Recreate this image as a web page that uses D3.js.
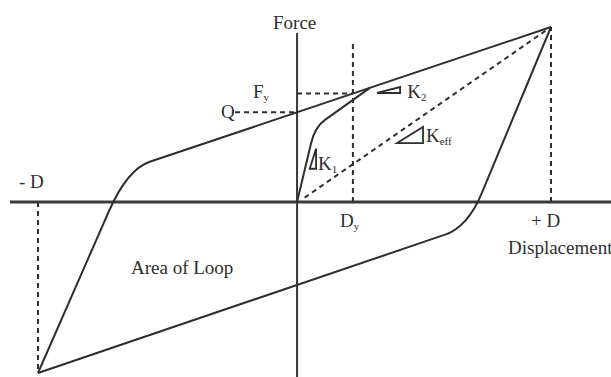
<!DOCTYPE html>
<html>
<head>
<meta charset="utf-8">
<script src="https://cdn.jsdelivr.net/npm/d3@7"></script>
<style>
  body { margin: 0; background: #fff; }
  text { font-family: "Liberation Serif", "Times New Roman", serif; fill: #2e2e2e; }
</style>
</head>
<body>
<div id="app"></div>
<script>
// displacement / force values
const dispLimits = [-102, 100];        // -D, +D
const forceLimits = [-97.7, 100];      // force at -D, force at +D
const charStrength = 51.25;            // Q
const yieldForce = 62;                 // Fy
const yieldDisp = 22;                  // Dy

// loop branches: start, bend start, bend corner, bend end, finish
const upperBranch = [[-102, -97.7], [-74, -5], [-66.7, 18.7], [-58, 23], [100, 100]];
const lowerBranch = [[100, 100], [72.7, 5], [67.2, -14.3], [58, -18.8], [-102, -97.7]];
const initialBranch = [[0, 0], [5.5, 33.4], [7.05, 42.9], [11, 46.9], [28.7, 65.2]];

// stiffness marker triangles
const triK1 = [[5, 19], [7.5, 30.5], [7.5, 19]];
const triK2 = [[31.5, 62.3], [40.6, 65.7], [40.6, 62.3]];
const triKeff = [[39.4, 33.7], [49.6, 42.9], [49.6, 33.7]];

const axisNames = ["Force", "Displacement"];
const tickNames = ["- D", "+ D", "D", "y"];
const markNames = ["Q", "F", "y", "K", "1", "2", "eff", "Area of Loop"];

var w = 611, h = 377;
const svg = d3.select("#app")
  .append("svg")
  .attr("width", w)
  .attr("height", h)

const x = d3.scaleLinear().domain(dispLimits).range([38, 551])
const y = d3.scaleLinear().domain(forceLimits).range([373, 27])

const ink = "#2e2e2e"

// axes
svg.append("line")
  .attr("x1", 10).attr("x2", w)
  .attr("y1", y(0)).attr("y2", y(0))
  .attr("stroke", "#3a3a3a").attr("stroke-width", 3)
svg.append("line")
  .attr("x1", x(0)).attr("x2", x(0))
  .attr("y1", 33).attr("y2", h)
  .attr("stroke", "#3a3a3a").attr("stroke-width", 2)

// dashed guides
const guides = [
  [[dispLimits[1], 0], [dispLimits[1], forceLimits[1]]],
  [[dispLimits[0], 0], [dispLimits[0], forceLimits[0]]],
  [[yieldDisp, 0], [yieldDisp, 91]],
  [[0, yieldForce], [yieldDisp, yieldForce]],
  [[-24.4, charStrength], [0, charStrength]],
  [[3, 2.5], [dispLimits[1], forceLimits[1]]]
]
svg.selectAll("line.guide")
  .data(guides)
  .enter()
  .append("line")
  .attr("class", "guide")
  .attr("x1", d => x(d[0][0])).attr("y1", d => y(d[0][1]))
  .attr("x2", d => x(d[1][0])).attr("y2", d => y(d[1][1]))
  .attr("stroke", ink)
  .attr("stroke-width", 2)
  .attr("stroke-dasharray", "5,4")

// branch with one rounded bend
function bent(pts) {
  const p = d3.path()
  p.moveTo(x(pts[0][0]), y(pts[0][1]))
  p.lineTo(x(pts[1][0]), y(pts[1][1]))
  p.quadraticCurveTo(x(pts[2][0]), y(pts[2][1]), x(pts[3][0]), y(pts[3][1]))
  p.lineTo(x(pts[4][0]), y(pts[4][1]))
  return p.toString()
}

svg.selectAll("path.branch")
  .data([upperBranch, lowerBranch, initialBranch])
  .enter()
  .append("path")
  .attr("class", "branch")
  .attr("d", bent)
  .attr("fill", "none")
  .attr("stroke", ink)
  .attr("stroke-width", 2)

const tri = d3.line().x(d => x(d[0])).y(d => y(d[1]))
svg.selectAll("path.tri")
  .data([triK1, triK2, triKeff])
  .enter()
  .append("path")
  .attr("class", "tri")
  .attr("d", d => tri(d) + "Z")
  .attr("fill", "none")
  .attr("stroke", ink)
  .attr("stroke-width", 1.8)

// labels
function label(px, py, main, sub) {
  const t = svg.append("text")
    .attr("x", px).attr("y", py)
    .attr("font-size", 19)
    .text(main)
  if (sub) {
    t.append("tspan")
      .attr("font-size", 11)
      .attr("dy", 3)
      .text(sub)
  }
  return t
}

label(273, 29, axisNames[0])
label(508, 254, axisNames[1])
label(19, 188, tickNames[0])
label(531, 227, tickNames[1])
label(x(yieldDisp) - 13, 227, tickNames[2], tickNames[3])
label(221, 118, markNames[0])
label(253, 98, markNames[1], markNames[2])
label(x(7.5) + 2, 170, markNames[3], markNames[4])
label(x(40.6) + 7, 98, markNames[3], markNames[5])
label(x(49.6) + 3, 142, markNames[3], markNames[6])
label(131, 274, markNames[7])
</script>
</body>
</html>
